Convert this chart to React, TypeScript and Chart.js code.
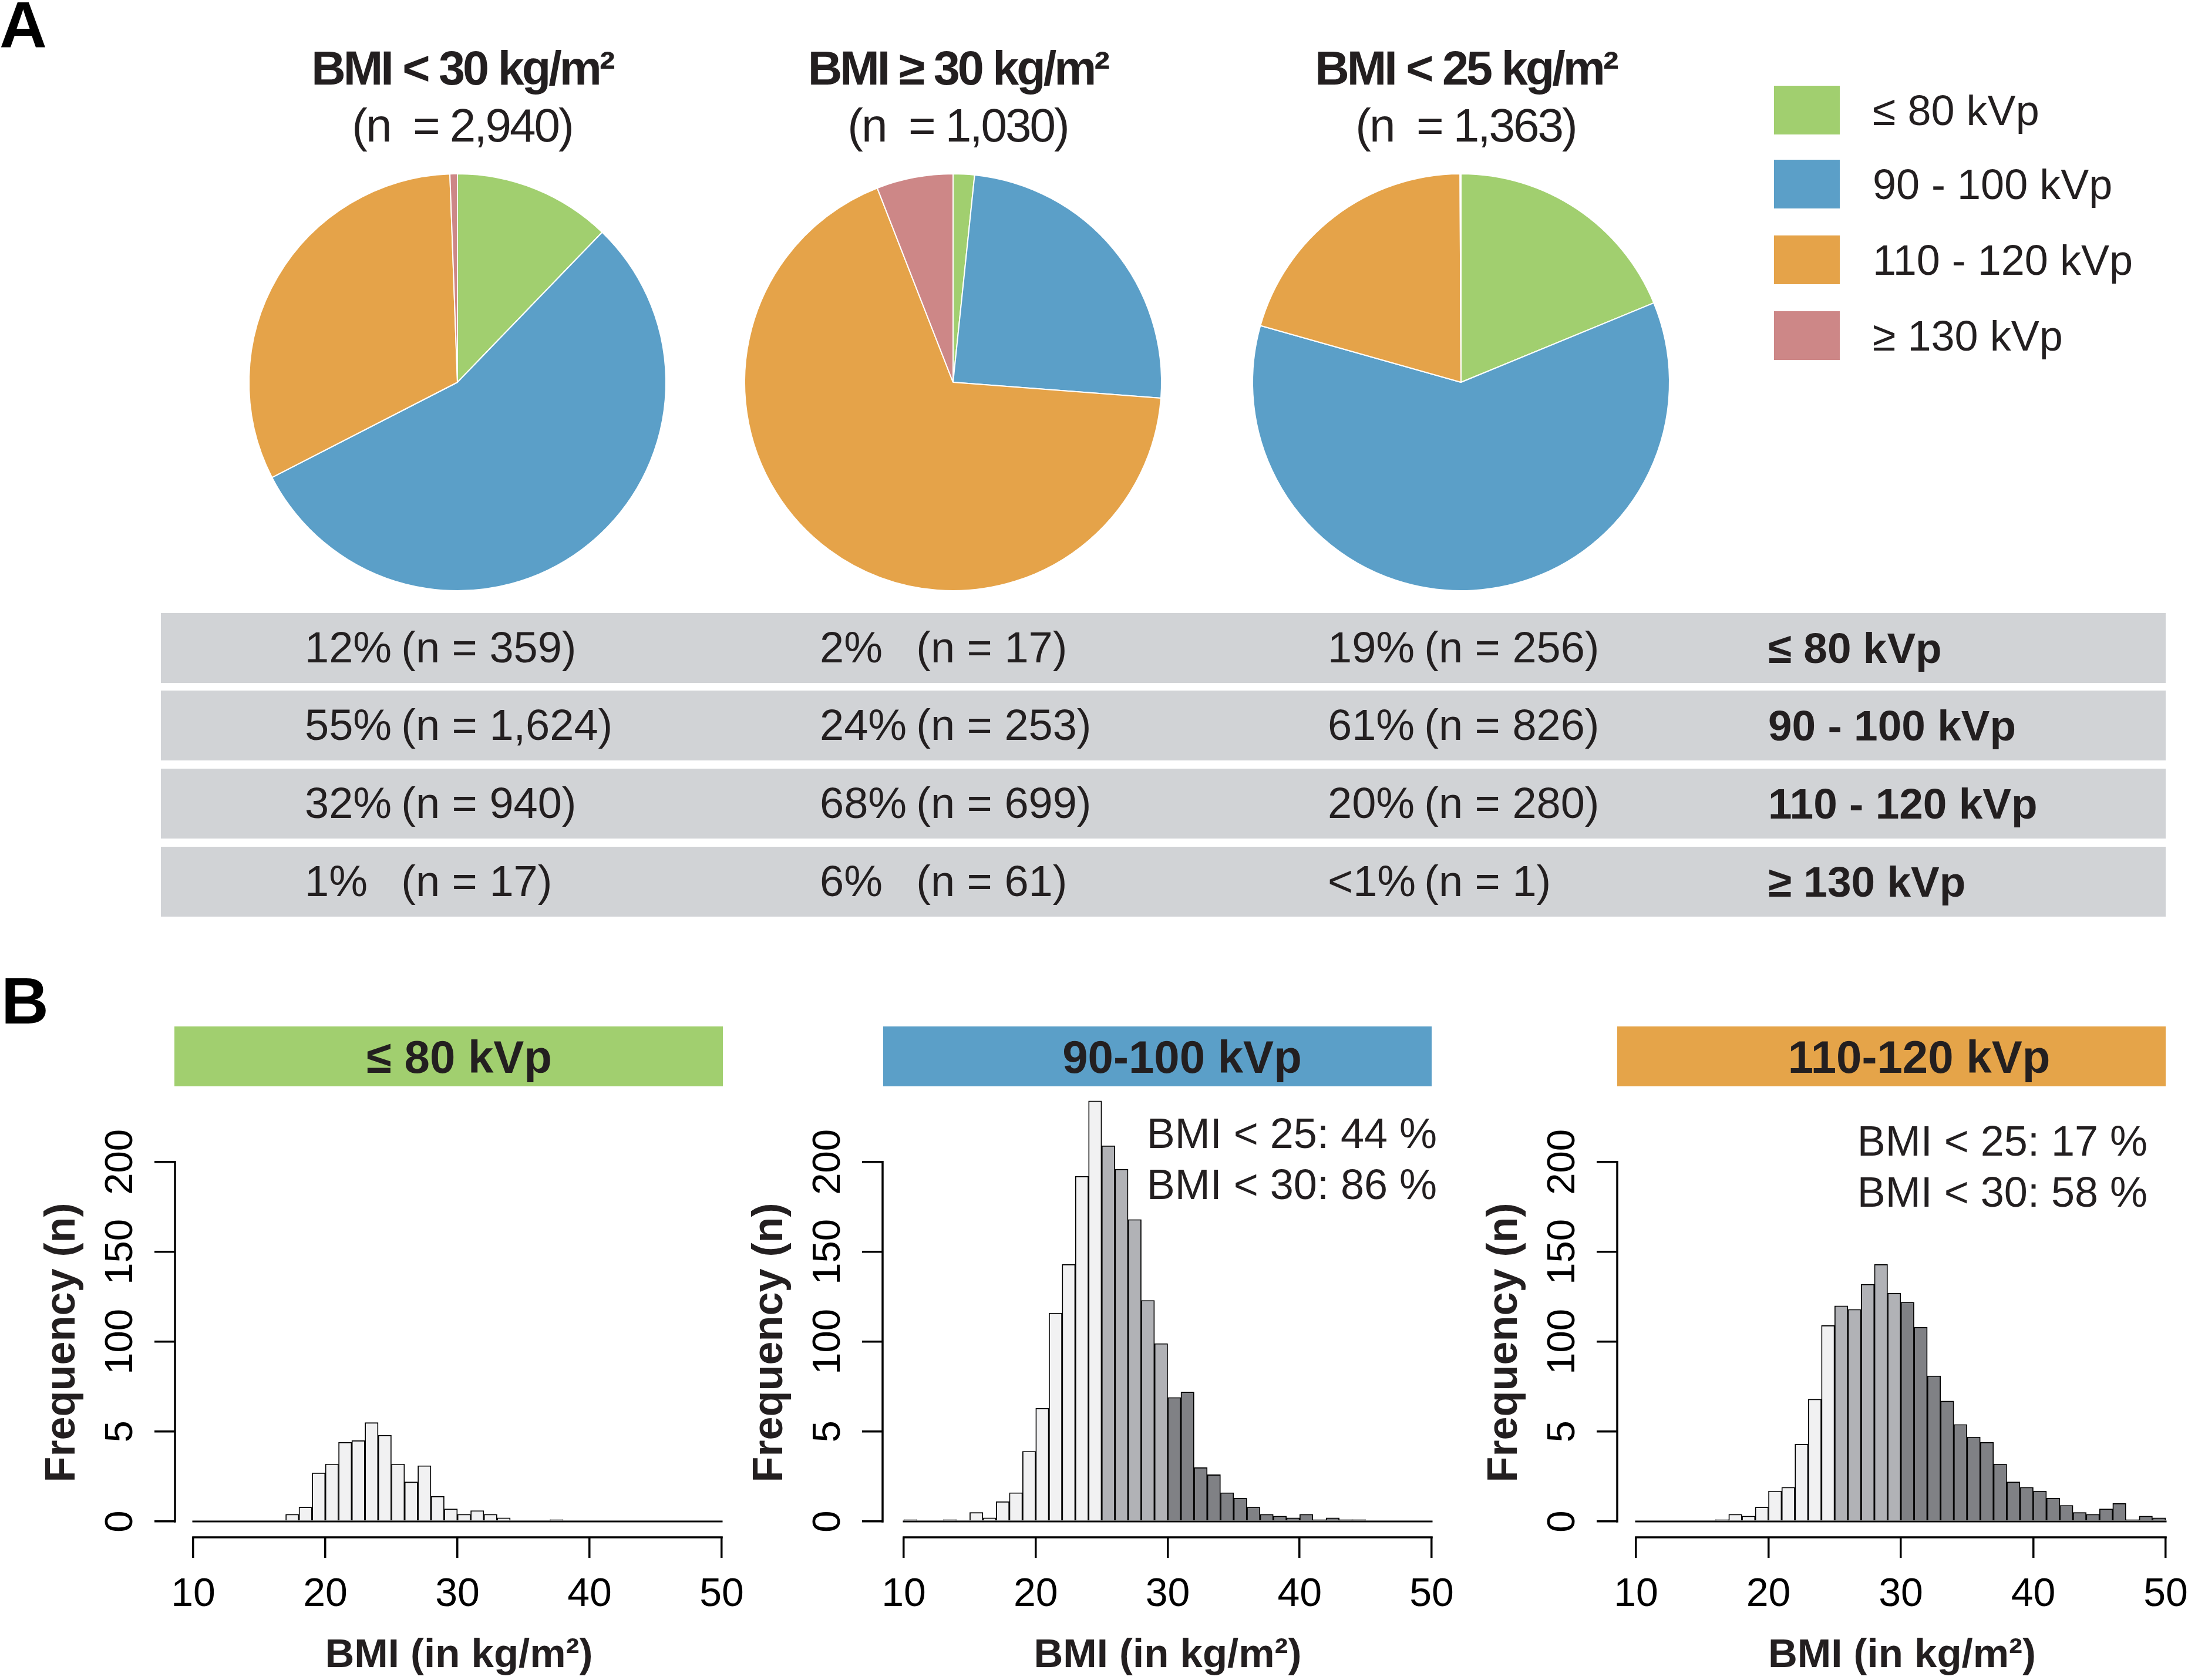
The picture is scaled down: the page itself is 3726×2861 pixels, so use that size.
import React, { useEffect, useRef } from 'react';
import { Chart, registerables } from 'chart.js';

Chart.register(...registerables);

const FONT = '"Liberation Sans", Arial, Helvetica, sans-serif';
const INK = '#231f20';

// ---------------- Panel A data ----------------
const kvpLabels = ['≤ 80 kVp', '90 - 100 kVp', '110 - 120 kVp', '≥ 130 kVp'];
const kvpColors = ['#a1cf6f', '#5b9fc8', '#e5a349', '#cd8787'];

const pieTitles = ['BMI < 30 kg/m²', 'BMI ≥ 30 kg/m²', 'BMI < 25 kg/m²'];
const pieSubtitles = ['(n  = 2,940)', '(n  = 1,030)', '(n  = 1,363)'];
const countsBmiUnder30 = [359, 1624, 940, 17];
const countsBmiOver30 = [17, 253, 699, 61];
const countsBmiUnder25 = [256, 826, 280, 1];

const tablePctUnder30 = ['12%', '55%', '32%', '1%'];
const tableNUnder30 = ['(n = 359)', '(n = 1,624)', '(n = 940)', '(n = 17)'];
const tablePctOver30 = ['2%', '24%', '68%', '6%'];
const tableNOver30 = ['(n = 17)', '(n = 253)', '(n = 699)', '(n = 61)'];
const tablePctUnder25 = ['19%', '61%', '20%', '<1%'];
const tableNUnder25 = ['(n = 256)', '(n = 826)', '(n = 280)', '(n = 1)'];

// ---------------- Panel B data ----------------
const binStarts = [
  10, 11, 12, 13, 14, 15, 16, 17, 18, 19,
  20, 21, 22, 23, 24, 25, 26, 27, 28, 29,
  30, 31, 32, 33, 34, 35, 36, 37, 38, 39,
  40, 41, 42, 43, 44, 45, 46, 47, 48, 49,
];
const histLow = [
  0, 0, 0, 0, 0, 0, 0, 4, 8, 27,
  32, 44, 45, 55, 48, 32, 22, 31, 14, 7,
  4, 6, 4, 2, 0, 0, 0, 1, 0, 0,
  0, 0, 0, 0, 0, 0, 0, 0, 0, 0,
];
const histMid = [
  1, 0, 0, 1, 0, 5, 2, 11, 16, 39,
  63, 116, 143, 192, 234, 209, 196, 168, 123, 99,
  69, 72, 30, 26, 16, 13, 8, 4, 3, 2,
  4, 1, 2, 1, 1, 0, 0, 0, 0, 0,
];
const histHigh = [
  0, 0, 0, 0, 0, 0, 1, 4, 3, 8,
  17, 19, 43, 68, 109, 120, 118, 132, 143, 127,
  122, 108, 81, 67, 54, 47, 44, 32, 22, 19,
  17, 13, 9, 5, 4, 7, 10, 1, 3, 2,
];
const xTickValues = [10, 20, 30, 40, 50];
const yTickValues = [0, 50, 100, 150, 200];
const yTickLabels = ['0', '5', '100', '150', '200'];
const histHeaders = ['≤ 80 kVp', '90-100 kVp', '110-120 kVp'];
const histHeaderColors = ['#a1cf6f', '#5b9fc8', '#e5a449'];
const notesMid = ['BMI < 25: 44 %', 'BMI < 30: 86 %'];
const notesHigh = ['BMI < 25: 17 %', 'BMI < 30: 58 %'];

const BAR_LIGHT = '#f1f1f2';
const BAR_MID = '#b1b2b6';
const BAR_DARK = '#808185';

type TxtProps = {
  x: number; y: number; size: number; bold?: boolean;
  align?: 'left' | 'center' | 'right'; ls?: number; color?: string;
  children: React.ReactNode;
};
function Txt({ x, y, size, bold = false, align = 'left', ls = 0, color = INK, children }: TxtProps) {
  const tx = align === 'left' ? '0' : align === 'center' ? '-50%' : '-100%';
  return (
    <div
      style={{
        position: 'absolute', left: x, top: y,
        transform: `translate(${tx}, -50%)`,
        fontFamily: FONT, fontSize: size, fontWeight: bold ? 700 : 400,
        lineHeight: 1, whiteSpace: 'pre', color, letterSpacing: ls,
      }}
    >
      {children}
    </div>
  );
}

function PieChart({ counts, cx, cy }: { counts: number[]; cx: number; cy: number }) {
  const ref = useRef<HTMLCanvasElement>(null);
  const size = 760;
  useEffect(() => {
    const chart = new Chart(ref.current!, {
      type: 'pie',
      data: {
        labels: kvpLabels,
        datasets: [{
          data: counts,
          backgroundColor: kvpColors,
          borderColor: '#ffffff',
          borderWidth: 2,
          radius: 355,
        } as any],
      },
      options: {
        animation: false,
        responsive: false,
        events: [],
        layout: { padding: 0 },
        plugins: { legend: { display: false }, tooltip: { enabled: false } },
      },
    });
    return () => chart.destroy();
  }, []);
  return (
    <canvas
      ref={ref}
      width={size}
      height={size}
      style={{ position: 'absolute', left: cx - size / 2, top: cy - size / 2, width: size, height: size }}
    />
  );
}

const rAxesPlugin = {
  id: 'rAxes',
  afterDatasetsDraw(chart: any) {
    const { ctx, chartArea, scales } = chart;
    const x = scales.x;
    const y = scales.y;
    const x0 = x.getPixelForValue(xTickValues[0]);
    const x1 = x.getPixelForValue(xTickValues[xTickValues.length - 1]);
    ctx.save();
    ctx.strokeStyle = '#000';
    ctx.lineCap = 'square';
    // zero-count bins (R draws them as a line at 0)
    ctx.lineWidth = 3;
    ctx.beginPath();
    ctx.moveTo(x0, y.getPixelForValue(0));
    ctx.lineTo(x1, y.getPixelForValue(0));
    ctx.stroke();
    // R style axis lines spanning only the tick range
    ctx.lineWidth = 3.5;
    ctx.beginPath();
    ctx.moveTo(x0, chartArea.bottom);
    ctx.lineTo(x1, chartArea.bottom);
    ctx.moveTo(chartArea.left, y.getPixelForValue(yTickValues[0]));
    ctx.lineTo(chartArea.left, y.getPixelForValue(yTickValues[yTickValues.length - 1]));
    ctx.stroke();
    ctx.restore();
  },
};

type HistProps = {
  counts: number[]; shaded: boolean; left: number; width: number;
  xMin: number; xMax: number; padRight: number;
};
function Histogram({ counts, shaded, left, width, xMin, xMax, padRight }: HistProps) {
  const ref = useRef<HTMLCanvasElement>(null);
  const top = 1860;
  const height = 1001;
  useEffect(() => {
    const colorFor = (b: number) =>
      !shaded ? BAR_LIGHT : b < 25 ? BAR_LIGHT : b < 30 ? BAR_MID : BAR_DARK;
    const gridOpts = {
      display: true, drawOnChartArea: false, drawTicks: true, offset: false,
      tickLength: 35, tickWidth: 3.5, tickColor: '#000', lineWidth: 3.5, color: '#000',
    };
    const chart = new Chart(ref.current!, {
      type: 'bar',
      data: {
        datasets: [{
          data: binStarts.map((b, i) => ({ x: b + 0.5, y: counts[i] })),
          backgroundColor: binStarts.map(colorFor),
          borderColor: '#000',
          borderWidth: 1.8,
          barPercentage: 1,
          categoryPercentage: 1,
          clip: false,
        } as any],
      },
      options: {
        animation: false,
        responsive: false,
        events: [],
        layout: { padding: { top: 95, right: padRight, bottom: 0, left: 0 } },
        plugins: { legend: { display: false }, tooltip: { enabled: false } },
        scales: {
          x: {
            type: 'linear',
            offset: false,
            min: xMin,
            max: xMax,
            afterBuildTicks: (s: any) => { s.ticks = xTickValues.map((v) => ({ value: v })); },
            afterFit: (s: any) => { s.height = 243; s.paddingLeft = 0; s.paddingRight = 0; },
            border: { display: false },
            grid: gridOpts,
            ticks: {
              color: '#000', font: { family: FONT, size: 68 }, padding: 22,
              minRotation: 0, maxRotation: 0, autoSkip: false,
              callback: (v: any) => String(v),
            },
            title: {
              display: true, text: 'BMI (in kg/m²)', color: INK,
              font: { family: FONT, size: 69, weight: 'bold' }, padding: { top: 0, bottom: 0 },
            },
          } as any,
          y: {
            type: 'linear',
            min: -8.82,
            max: 207.8,
            afterBuildTicks: (s: any) => { s.ticks = yTickValues.map((v) => ({ value: v })); },
            afterFit: (s: any) => { s.width = 298; s.paddingTop = 0; s.paddingBottom = 0; },
            border: { display: false },
            grid: gridOpts,
            ticks: {
              color: '#000', font: { family: FONT, size: 67 }, padding: 1,
              minRotation: 90, maxRotation: 90, crossAlign: 'center', autoSkip: false,
              callback: (v: any) => {
                const i = yTickValues.indexOf(Number(v));
                return i >= 0 ? yTickLabels[i] : '';
              },
            },
            title: {
              display: true, text: 'Frequency (n)', color: INK,
              font: { family: FONT, size: 72, weight: 'bold' }, padding: { top: 64, bottom: 0 },
            },
          } as any,
        },
      },
      plugins: [rAxesPlugin],
    });
    return () => chart.destroy();
  }, []);
  return (
    <canvas
      ref={ref}
      width={width}
      height={height}
      style={{ position: 'absolute', left, top, width, height }}
    />
  );
}

function Rect({ x, y, w, h, color }: { x: number; y: number; w: number; h: number; color: string }) {
  return <div style={{ position: 'absolute', left: x, top: y, width: w, height: h, background: color }} />;
}

export default function App() {
  const pieCenters = [779, 1623, 2488];
  const pieCounts = [countsBmiUnder30, countsBmiOver30, countsBmiUnder25];
  const legendTops = [146, 272, 401, 530];
  const rowTops = [1044, 1176, 1309, 1442];
  const rowH = 119;
  const tableCols = [
    { x: 519, pct: tablePctUnder30, n: tableNUnder30 },
    { x: 1396, pct: tablePctOver30, n: tableNOver30 },
    { x: 2261, pct: tablePctUnder25, n: tableNUnder25 },
  ];
  const headerX = [[297, 1231], [1504, 2438], [2754, 3688]];
  const headerTextX = [782, 2013, 3268];

  return (
    <div
      style={{
        position: 'absolute', left: 0, top: 0, width: 3726, height: 2861,
        background: '#ffffff', overflow: 'hidden', fontFamily: FONT,
      }}
    >
      {/* Panel A */}
      <Txt x={-1} y={43} size={112} bold color="#000">A</Txt>
      {pieTitles.map((t, i) => (
        <Txt key={'t' + i} x={pieCenters[i] + 8} y={116} size={81} bold align="center" ls={-4}>{t}</Txt>
      ))}
      {pieSubtitles.map((t, i) => (
        <Txt key={'s' + i} x={pieCenters[i] + 8} y={214} size={80} align="center" ls={-3}>{t}</Txt>
      ))}
      {pieCounts.map((c, i) => (
        <PieChart key={'p' + i} counts={c} cx={pieCenters[i]} cy={651} />
      ))}
      {kvpLabels.map((l, i) => (
        <React.Fragment key={'l' + i}>
          <Rect x={3021} y={legendTops[i]} w={112} h={83} color={kvpColors[i]} />
          <Txt x={3189} y={legendTops[i] + 42} size={72}>{l}</Txt>
        </React.Fragment>
      ))}

      {rowTops.map((rt, r) => (
        <React.Fragment key={'r' + r}>
          <Rect x={274} y={rt} w={3414} h={rowH} color="#d1d3d6" />
          {tableCols.map((col, c) => (
            <div
              key={'c' + c}
              style={{
                position: 'absolute', left: col.x, top: rt + rowH / 2 - 1,
                transform: 'translateY(-50%)', fontFamily: FONT, fontSize: 74,
                lineHeight: 1, whiteSpace: 'pre', color: INK,
              }}
            >
              <span style={{ display: 'inline-block', width: '2.22em' }}>{col.pct[r]}</span>
              <span>{col.n[r]}</span>
            </div>
          ))}
          <Txt x={3011} y={rt + rowH / 2 - 1} size={73} bold>{kvpLabels[r]}</Txt>
        </React.Fragment>
      ))}

      {/* Panel B */}
      <Txt x={2} y={1705} size={112} bold color="#000">B</Txt>
      {histHeaders.map((h, i) => (
        <React.Fragment key={'h' + i}>
          <Rect x={headerX[i][0]} y={1748} w={headerX[i][1] - headerX[i][0]} h={102} color={histHeaderColors[i]} />
          <Txt x={headerTextX[i]} y={1800} size={78} bold align="center">{h}</Txt>
        </React.Fragment>
      ))}

      <Histogram counts={histLow} shaded={false} left={0} width={1335} xMin={8.622} xMax={51.6} padRight={70} />
      <Histogram counts={histMid} shaded={true} left={1205} width={1339} xMin={8.398} xMax={51.602} padRight={70} />
      <Histogram counts={histHigh} shaded={true} left={2456} width={1270} xMin={8.581} xMax={51.596} padRight={2} />

      {notesMid.map((t, i) => (
        <Txt key={'nm' + i} x={2447} y={1930 + i * 87} size={72} align="right">{t}</Txt>
      ))}
      {notesHigh.map((t, i) => (
        <Txt key={'nh' + i} x={3657} y={1943 + i * 87} size={72} align="right">{t}</Txt>
      ))}
    </div>
  );
}
